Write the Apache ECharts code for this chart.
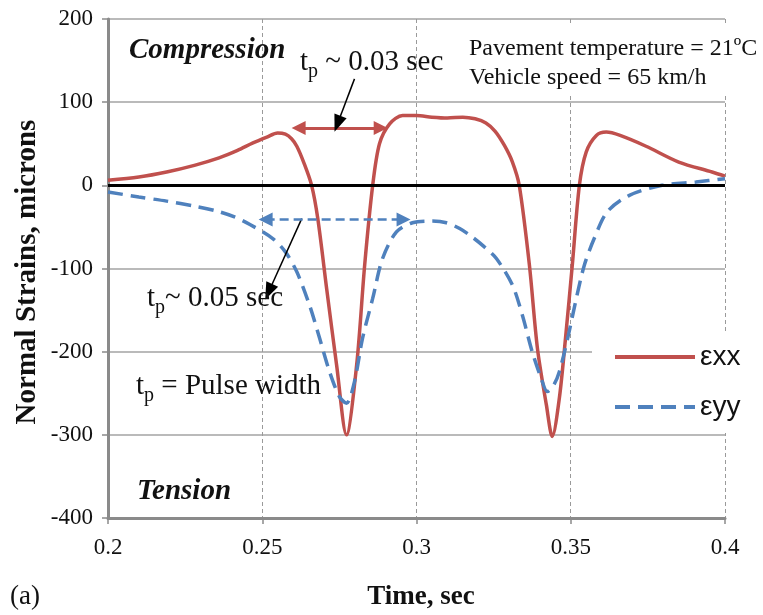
<!DOCTYPE html>
<html lang="en">
<head>
  <meta charset="UTF-8">
  <script src="https://cdn.jsdelivr.net/npm/echarts@6/dist/echarts.min.js"></script>
  <title>Normal strains</title>
  <style>
    html, body { margin: 0; padding: 0; background: #fff; }
    #main { width: 763px; height: 615px; }
  </style>
</head>
<body>
  <div id="main"></div>
  <script>
    // εxx
    let exxTime = [0.200, 0.210, 0.219, 0.228, 0.236, 0.242, 0.247, 0.2515, 0.255, 0.2575, 0.2595, 0.2612, 0.2635, 0.266, 0.268,
      0.2709, 0.2741, 0.2773, 0.2806, 0.2832, 0.2858, 0.288, 0.2913, 0.2955, 0.300, 0.305, 0.310, 0.315, 0.319, 0.3225,
      0.3255, 0.3285, 0.3311, 0.3333, 0.3366, 0.3392, 0.3421, 0.344, 0.3463, 0.3485, 0.3505, 0.3528, 0.355, 0.3583,
      0.3615, 0.366, 0.3744, 0.385, 0.3958, 0.400]
    let exxVal = [6, 10, 16, 24, 33, 42, 51, 58, 63, 61.5, 56, 47, 27, 0, -40,
      -125, -216, -300, -216, -96, 0, 50, 74, 84, 84, 82, 81, 82, 80, 75,
      65, 48, 28, 0, -96, -196, -264, -302, -256, -176, -96, 0, 40, 60,
      64, 60, 47, 28, 16, 11]

    // εyy
    let eyyTime = [0.200, 0.210, 0.219, 0.228, 0.2353, 0.241, 0.246, 0.2534, 0.2575, 0.2612, 0.2654, 0.2686, 0.2718, 0.275,
      0.2773, 0.2799, 0.2825, 0.2858, 0.289, 0.2935, 0.2987, 0.305, 0.3097, 0.314, 0.318, 0.322, 0.3259, 0.3311, 0.3343,
      0.3375, 0.3404, 0.3424, 0.3445, 0.3463, 0.349, 0.3518, 0.3544, 0.3576, 0.3618, 0.369, 0.3796, 0.3906, 0.400]
    let eyyVal = [-8, -14, -19, -25, -31, -38, -47, -64, -80, -104, -145, -184, -224, -254,
      -262, -236, -184, -136, -88, -56, -45, -43, -45, -52, -62, -74, -88, -120, -156,
      -200, -232, -248, -240, -224, -184, -136, -96, -64, -32, -12, 0, 4, 8]

    let xTicks = [0.2, 0.25, 0.3, 0.35, 0.4]
    let yTicks = [-400, -300, -200, -100, 0, 100, 200]

    // pulse width arrows (time, strain)
    let arrowXX = [[0.2618, 69], [0.2884, 69]]
    let arrowYY = [[0.2511, -41], [0.2958, -41]]
    let pointerXX = [[0.2799, 128], [0.2744, 74]]
    let pointerYY = [[0.2628, -40], [0.2521, -128]]

    let red = '#C0504D'
    let blue = '#4F81BD'
    let serif = '"Liberation Serif", "Times New Roman", serif'

    let zip = (xs, ys) => xs.map((x, i) => [x, ys[i]])

    let chart = echarts.init(document.getElementById('main'))

    let subText = (x, y, main) => ({
      type: 'text', x: x, y: y, z: 60,
      style: {
        text: '{m|t}{p|p}{m|' + main + '}',
        fill: '#111', align: 'left', verticalAlign: 'middle',
        rich: {
          m: { fontFamily: serif, fontSize: 29, lineHeight: 40, fill: '#111' },
          p: { fontFamily: serif, fontSize: 20, lineHeight: 20, verticalAlign: 'bottom', fill: '#111' }
        }
      }
    })

    let option = {
      animation: false,
      grid: { left: 108, right: 38, top: 19, bottom: 97 },
      xAxis: {
        type: 'value', min: xTicks[0], max: xTicks[xTicks.length - 1], interval: 0.05,
        axisLine: { show: true, onZero: false, lineStyle: { color: '#8a8a8a', width: 3 } },
        axisTick: { show: true, length: 6, lineStyle: { color: '#8a8a8a', width: 1.5 } },
        splitLine: { show: true, lineStyle: { color: '#9a9a9a', width: 1, type: [4, 3] } },
        axisLabel: {
          margin: 18, fontFamily: serif, fontSize: 23, color: '#111',
          formatter: v => String(+v.toFixed(2))
        }
      },
      yAxis: {
        type: 'value', min: yTicks[0], max: yTicks[yTicks.length - 1], interval: 100,
        axisLine: { show: true, onZero: false, lineStyle: { color: '#8a8a8a', width: 3 } },
        axisTick: { show: true, length: 6, lineStyle: { color: '#8a8a8a', width: 1.5 } },
        splitLine: { show: true, lineStyle: { color: '#a3a3a3', width: 1.5 } },
        axisLabel: { margin: 15, fontFamily: serif, fontSize: 23, color: '#111' }
      },
      legend: {
        orient: 'vertical', left: 592, top: 331,
        padding: [12, 20, 12, 21],
        backgroundColor: '#fff',
        itemWidth: 80, itemHeight: 28, itemGap: 22,
        itemStyle: { opacity: 0 },
        lineStyle: { width: 4 },
        textStyle: { fontFamily: '"Liberation Sans", sans-serif', fontSize: 28, lineHeight: 28, color: '#111' },
        data: ['εxx', 'εyy']
      },
      series: [
        {
          name: 'εxx', type: 'line', data: zip(exxTime, exxVal),
          smooth: 0.3, showSymbol: false, symbol: 'none',
          lineStyle: { color: red, width: 3.5 },
          itemStyle: { color: red },
          markLine: {
            silent: true, symbol: 'none', label: { show: false }, animation: false,
            data: [
              { yAxis: 0, lineStyle: { color: '#000', width: 3, type: 'solid' } },
              [
                { coord: arrowXX[0], symbol: 'triangle', symbolSize: 14, lineStyle: { color: red, width: 3, type: 'solid' } },
                { coord: arrowXX[1], symbol: 'triangle', symbolSize: 14 }
              ],
              [
                { coord: pointerXX[0], symbol: 'none', lineStyle: { color: '#000', width: 1.5, type: 'solid' } },
                { coord: pointerXX[1], symbol: 'triangle', symbolSize: [13, 17] }
              ],
              [
                { coord: pointerYY[0], symbol: 'none', lineStyle: { color: '#000', width: 1.5, type: 'solid' } },
                { coord: pointerYY[1], symbol: 'triangle', symbolSize: [13, 17] }
              ]
            ]
          }
        },
        {
          name: 'εyy', type: 'line', data: zip(eyyTime, eyyVal),
          smooth: 0.3, showSymbol: false, symbol: 'none',
          lineStyle: { color: blue, width: 3.5, type: [15, 8] },
          itemStyle: { color: blue },
          markLine: {
            silent: true, symbol: 'none', label: { show: false }, animation: false,
            data: [
              [
                { coord: arrowYY[0], symbol: 'triangle', symbolSize: 14, lineStyle: { color: blue, width: 2.5, type: [9, 5] } },
                { coord: arrowYY[1], symbol: 'triangle', symbolSize: 14 }
              ]
            ]
          }
        }
      ],
      graphic: [
        { type: 'rect', z: 50, shape: { x: 465, y: 23, width: 298, height: 70 }, style: { fill: '#fff' } },
        { type: 'text', x: 469, y: 49, z: 60, style: { text: 'Pavement temperature = 21ºC', font: '24px ' + serif, fill: '#111', align: 'left', verticalAlign: 'middle' } },
        { type: 'text', x: 469, y: 78, z: 60, style: { text: 'Vehicle speed = 65 km/h', font: '24px ' + serif, fill: '#111', align: 'left', verticalAlign: 'middle' } },
        { type: 'text', x: 129, y: 51, z: 60, style: { text: 'Compression', font: 'italic bold 29px ' + serif, fill: '#111', align: 'left', verticalAlign: 'middle' } },
        { type: 'text', x: 137, y: 492, z: 60, style: { text: 'Tension', font: 'italic bold 29px ' + serif, fill: '#111', align: 'left', verticalAlign: 'middle' } },
        subText(300, 62, ' ~ 0.03 sec'),
        subText(147, 298, '~ 0.05 sec'),
        subText(136, 386, ' = Pulse width'),
        { type: 'text', x: 28, y: 272, z: 60, rotation: Math.PI / 2, style: { text: 'Normal Strains, microns', font: 'bold 29px ' + serif, fill: '#111', align: 'center', verticalAlign: 'middle' } },
        { type: 'text', x: 421, y: 597, z: 60, style: { text: 'Time, sec', font: 'bold 27px ' + serif, fill: '#111', align: 'center', verticalAlign: 'middle' } },
        { type: 'text', x: 10, y: 597, z: 60, style: { text: '(a)', font: '27px ' + serif, fill: '#111', align: 'left', verticalAlign: 'middle' } }
      ]
    }

    chart.setOption(option)
  </script>
</body>
</html>
